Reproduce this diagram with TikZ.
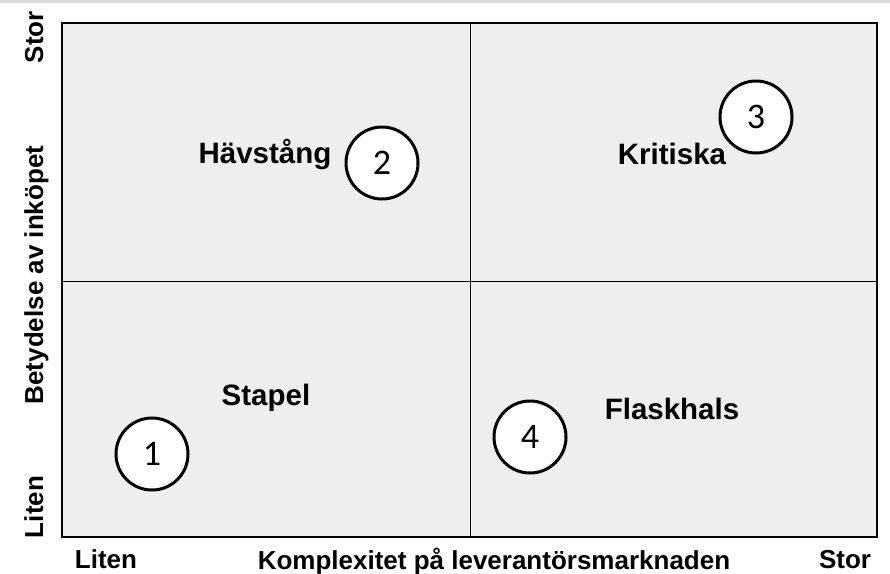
\documentclass[tikz,border=0pt]{standalone}
\usepackage{fontspec}
\setmainfont{Liberation Sans}
\newfontfamily\numfont{Carlito}
\definecolor{cellgray}{HTML}{EEEEEE}
\definecolor{topgray}{HTML}{D9D9D9}
\begin{document}
\begin{tikzpicture}[x=1pt, y=-1pt,
  quad/.style={font=\fontsize{29.5}{31}\selectfont\bfseries, anchor=base, inner sep=0pt},
  axis/.style={font=\fontsize{26}{28}\selectfont\bfseries, anchor=base, inner sep=0pt},
  num/.style={circle, draw=black, line width=3pt, fill=white, minimum size=72pt,
    inner sep=0pt, font=\fontsize{36}{37}\selectfont\numfont}]
\useasboundingbox (0,0) rectangle (890,573);
\fill [topgray] (0,0) rectangle (890,2.5);
\fill [cellgray] (62,23) rectangle (877,537);
\draw [line width=1.5pt] (62,23) rectangle (877,537);
\draw [line width=1pt] (470,23) -- (470,537);
\draw [line width=1pt] (62,281) -- (877,281);
% axis labels
\node [axis, rotate=90] (ystor) at (43,37) {Stor};
\node [axis, rotate=90] (ylabel) at (43,275) {Betydelse av inköpet};
\node [axis, rotate=90] (yliten) at (43,507) {Liten};
\node [axis] (xliten) at (106,568) {Liten};
\node [axis] (xlabel) at (494,569) {Komplexitet på leverantörsmarknaden};
\node [axis] (xstor) at (845,568) {Stor};
% quadrants
\node [quad] (havstang) at (265,163) {Hävstång};
\node [quad] (kritiska) at (672,164) {Kritiska};
\node [quad] (stapel) at (266,405) {Stapel};
\node [quad] (flaskhals) at (672,419) {Flaskhals};
\node [num] (n1) at (152,454) {1};
\node [num] (n2) at (382,163) {2};
\node [num] (n3) at (756,117) {3};
\node [num] (n4) at (530,437) {4};
\end{tikzpicture}
\end{document}
